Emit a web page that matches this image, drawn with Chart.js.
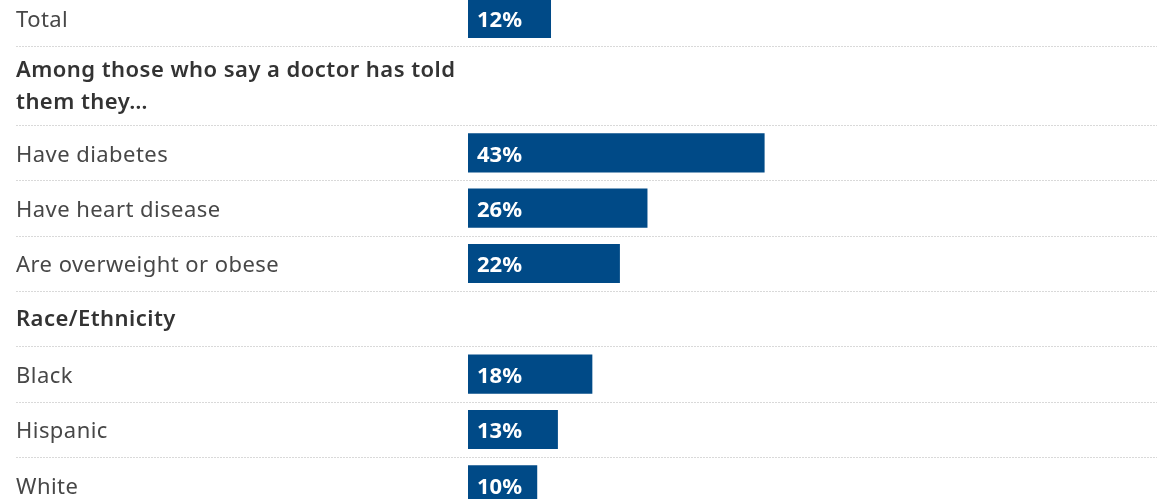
<!DOCTYPE html>
<html>
<head>
<meta charset="utf-8">
<script src="https://cdn.jsdelivr.net/npm/chart.js@4.4.1/dist/chart.umd.min.js"></script>
<style>
  html, body { margin: 0; padding: 0; background: #ffffff; overflow: hidden; }
  canvas { display: block; }
</style>
</head>
<body>
<canvas id="c" width="1157" height="499"></canvas>
<script>
// ---- data ----
const categories = [
  "Total",
  "Among those who say a doctor has told\nthem they…",
  "Have diabetes",
  "Have heart disease",
  "Are overweight or obese",
  "Race/Ethnicity",
  "Black",
  "Hispanic",
  "White"
];
const values = [12, null, 43, 26, 22, null, 18, 13, 10];
const headerRows = [false, true, false, false, false, true, false, false, false];
const valueSuffix = "%";

// ---- layout (styles, not data) ----
const rowUnits = categories.map(c => (c.indexOf("\n") >= 0 ? 1.43 : 1));
const unitPx = 55.33;
const topOffsetPx = 9.3;
const FONT = "'Noto Sans', sans-serif";
const barColor = "#004a87";

// row start/centre positions in "row units"
const rowStart = [];
let acc = 0;
rowUnits.forEach(u => { rowStart.push(acc); acc += u; });
const rowCenter = rowStart.map((s, i) => s + rowUnits[i] / 2);
const yMin = topOffsetPx / unitPx;
const yMax = yMin + 499 / unitPx;

const points = [];
values.forEach((v, i) => { if (v !== null) points.push({ x: v, y: rowCenter[i] }); });

const rowPlugin = {
  id: 'rows',
  beforeDatasetsDraw(chart) {
    const ctx = chart.ctx;
    const ys = chart.scales.y;
    ctx.save();
    ctx.strokeStyle = '#d9d9d9';
    ctx.lineWidth = 1;
    ctx.setLineDash([2, 1]);
    rowStart.forEach((s, i) => {
      if (i === 0) return;
      const py = Math.round(ys.getPixelForValue(s)) + 0.5;
      ctx.beginPath();
      ctx.moveTo(16, py);
      ctx.lineTo(chart.width, py);
      ctx.stroke();
    });
    ctx.setLineDash([]);
    // category labels
    ctx.textBaseline = 'middle';
    ctx.textAlign = 'left';
    if ('letterSpacing' in ctx) ctx.letterSpacing = '0.45px';
    categories.forEach((c, i) => {
      const cy = ys.getPixelForValue(rowCenter[i]);
      const lines = c.split("\n");
      const lh = 32;
      ctx.fillStyle = headerRows[i] ? '#333333' : '#474747';
      ctx.font = (headerRows[i] ? '600 ' : '400 ') + '22px ' + FONT;
      const shift = headerRows[i] ? 1 : 2.5;
      lines.forEach((ln, k) => {
        const off = (k - (lines.length - 1) / 2) * lh;
        ctx.fillText(ln, 16, cy + off + shift);
      });
    });
    ctx.restore();
  },
  afterDatasetsDraw(chart) {
    const ctx = chart.ctx;
    const meta = chart.getDatasetMeta(0);
    ctx.save();
    ctx.fillStyle = '#ffffff';
    ctx.font = '700 22px ' + FONT;
    ctx.textBaseline = 'middle';
    ctx.textAlign = 'left';
    meta.data.forEach((bar, i) => {
      const p = points[i];
      ctx.fillText(p.x + valueSuffix, bar.base + 9, bar.y + 2.5);
    });
    ctx.restore();
  }
};

new Chart(document.getElementById('c'), {
  type: 'bar',
  data: {
    datasets: [{
      data: points,
      backgroundColor: barColor,
      borderWidth: 0,
      barThickness: 38.5
    }]
  },
  options: {
    indexAxis: 'y',
    responsive: false,
    animation: false,
    events: [],
    layout: { padding: { left: 468, right: 0, top: 0, bottom: 0 } },
    plugins: { legend: { display: false }, tooltip: { enabled: false } },
    scales: {
      x: { type: 'linear', min: 0, max: 100, display: false, offset: false },
      y: { type: 'linear', min: yMin, max: yMax, reverse: true, display: false, offset: false }
    }
  },
  plugins: [rowPlugin]
});
</script>
</body>
</html>
